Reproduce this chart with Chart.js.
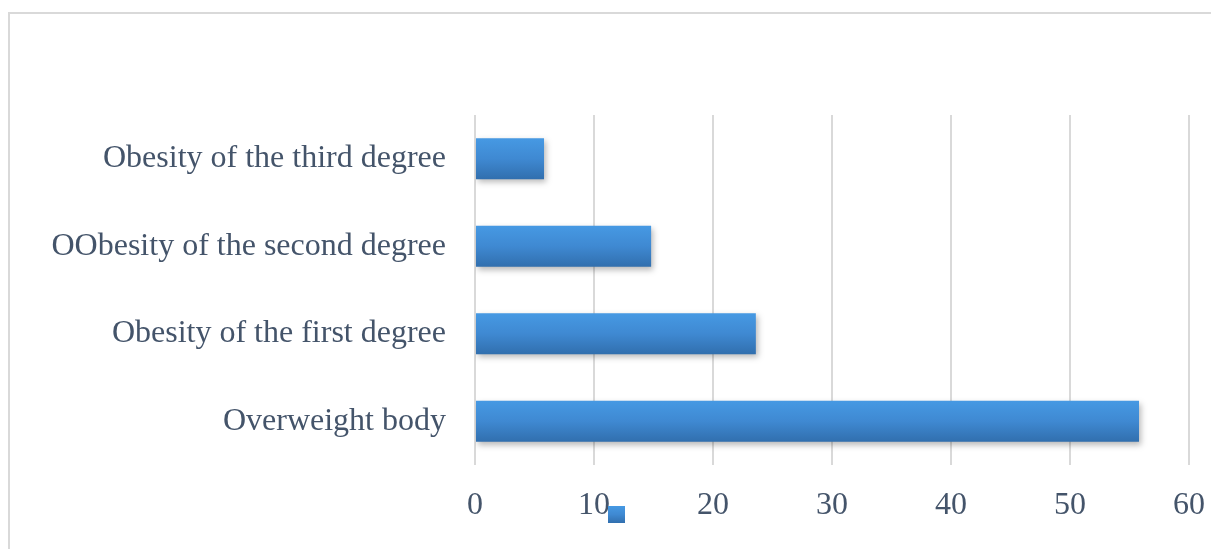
<!DOCTYPE html>
<html>
<head>
<meta charset="utf-8">
<script src="https://cdn.jsdelivr.net/npm/chart.js@4.4.0/dist/chart.umd.min.js"></script>
<style>
  html, body { margin: 0; padding: 0; background: #ffffff; }
  #wrap { position: relative; width: 1211px; height: 549px; overflow: hidden; }
  #frame { position: absolute; left: 8px; top: 12px; width: 1300px; height: 600px;
           border-left: 2px solid #d9d9d9; border-top: 2px solid #d9d9d9; pointer-events: none; }
  canvas { position: absolute; left: 0; top: 0; }
</style>
</head>
<body>
<div id="wrap">
  <canvas id="c" width="1211" height="549"></canvas>
  <div id="frame"></div>
</div>
<script>
const categories = [
  "Obesity of the third degree",
  "OObesity of the second degree",
  "Obesity of the first degree",
  "Overweight body"
];
const seriesValues = [5.8, 14.8, 23.6, 55.8];
const xTicks = [0, 10, 20, 30, 40, 50, 60];

const TEXT = '#44546a';
const FONT = { family: "'Liberation Serif', 'Times New Roman', serif", size: 32 };
const BAR_PCT = 0.466;

function barGradient(ctx2, top, bottom) {
  const g = ctx2.createLinearGradient(0, top, 0, bottom);
  g.addColorStop(0, '#4699e3');
  g.addColorStop(0.5, '#3f89d2');
  g.addColorStop(1, '#316fae');
  return g;
}

const shadowPlugin = {
  id: 'barShadow',
  beforeDatasetsDraw(chart) {
    const c = chart.ctx;
    c.save();
    c.shadowColor = 'rgba(0,0,0,0.28)';
    c.shadowBlur = 6;
    c.shadowOffsetX = 2;
    c.shadowOffsetY = 3;
  },
  afterDatasetsDraw(chart) {
    chart.ctx.restore();
  }
};

const legendMarker = {
  id: 'legendMarker',
  afterDraw(chart) {
    const c = chart.ctx;
    const x = 608, y = 506, s = 17;
    c.save();
    c.fillStyle = barGradient(c, y, y + s);
    c.fillRect(x, y, s, s);
    c.restore();
  }
};

new Chart(document.getElementById('c'), {
  type: 'bar',
  data: {
    labels: categories,
    datasets: [{
      label: '',
      data: seriesValues,
      categoryPercentage: 1,
      barPercentage: BAR_PCT,
      borderWidth: 0,
      backgroundColor: (context) => {
        const chart = context.chart;
        const ys = chart.scales.y;
        if (!ys || context.dataIndex === undefined) return '#3f89d2';
        const center = ys.getPixelForValue(context.dataIndex);
        const half = (ys.height / categories.length) * BAR_PCT / 2;
        if (!isFinite(center) || !isFinite(half) || half <= 0) return '#3f89d2';
        return barGradient(chart.ctx, center - half, center + half);
      }
    }]
  },
  options: {
    indexAxis: 'y',
    responsive: false,
    animation: false,
    events: [],
    layout: { padding: { top: 115, right: 22, left: 0, bottom: 0 } },
    plugins: {
      legend: { display: false },
      tooltip: { enabled: false }
    },
    scales: {
      x: {
        type: 'linear',
        min: 0,
        max: 60,
        afterBuildTicks: (s) => { s.ticks = xTicks.map(v => ({ value: v })); },
        afterFit: (s) => { s.height = 84; s.paddingRight = 0; s.paddingLeft = 0; },
        border: { display: false },
        grid: { color: '#d9d9d9', lineWidth: 2, drawTicks: false },
        ticks: { color: TEXT, font: FONT, padding: 21, maxRotation: 0 }
      },
      y: {
        afterFit: (s) => { s.width = 475; s.paddingTop = 0; s.paddingBottom = 0; },
        border: { display: false },
        grid: { display: false, drawTicks: false },
        ticks: { color: TEXT, font: FONT, padding: 29 }
      }
    }
  },
  plugins: [shadowPlugin, legendMarker]
});
</script>
</body>
</html>
